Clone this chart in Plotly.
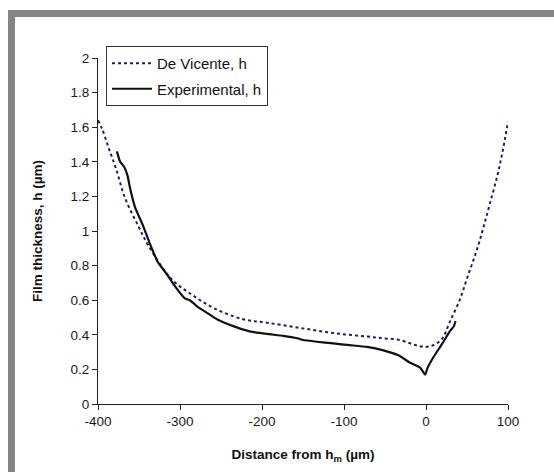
import plotly.graph_objects as go

# De Vicente (theory) curve
dv_x = [-400, -395, -387, -378, -367, -351, -339, -312, -285, -257, -223, -194, -154,
        -113, -72, -52, -32, -16, -3, 9, 20, 29, 41, 51, 62, 70, 78, 87, 93, 100]
dv_h = [1.64, 1.59, 1.48, 1.36, 1.19, 1.03, 0.92, 0.73, 0.63, 0.55, 0.49, 0.47, 0.44,
        0.41, 0.39, 0.38, 0.37, 0.345, 0.33, 0.34, 0.38, 0.475, 0.60, 0.74, 0.89, 1.02,
        1.16, 1.32, 1.45, 1.63]

# Experimental curve
ex_x = [-377, -373, -368, -364, -361, -355, -345, -337, -327, -316, -306, -294, -288, -278,
        -268, -255, -235, -215, -194, -174, -157, -150, -133, -113, -93, -72, -52, -33,
        -20, -7, -1, 2, 9, 20, 29, 34, 36]
ex_h = [1.46, 1.40, 1.37, 1.32, 1.25, 1.14, 1.03, 0.93, 0.82, 0.75, 0.68, 0.61, 0.60, 0.56,
        0.53, 0.49, 0.45, 0.42, 0.405, 0.394, 0.38, 0.37, 0.36, 0.35, 0.34, 0.33, 0.31,
        0.28, 0.24, 0.21, 0.17, 0.21, 0.27, 0.35, 0.42, 0.45, 0.48]

x_ticks = [-400, -300, -200, -100, 0, 100]
x_tick_text = ["-400", "-300", "-200", "-100", "0", "100"]
y_ticks = [0, 0.2, 0.4, 0.6, 0.8, 1, 1.2, 1.4, 1.6, 1.8, 2]
y_tick_text = ["0", "0.2", "0.4", "0.6", "0.8", "1", "1.2", "1.4", "1.6", "1.8", "2"]

fig = go.Figure()
fig.add_trace(go.Scatter(x=dv_x, y=dv_h, mode="lines", name="De Vicente, h",
                         legendgroup="a",
                         line=dict(color="#1c1c70", width=2, dash="dot", shape="spline")))
fig.add_trace(go.Scatter(x=ex_x, y=ex_h, mode="lines", name="Experimental, h",
                         legendgroup="b",
                         line=dict(color="#111111", width=2.2, shape="spline", smoothing=0.4)))

L, R, T, B = 98, 46, 58, 68
W, H = 554, 472
pw, ph = W - L - R, H - T - B

def px(xp):
    return (xp - L) / pw

def py(yp):
    return (H - B - yp) / ph

fig.add_shape(type="rect", xref="paper", yref="paper",
              x0=px(11.5), x1=px(600), y0=py(520), y1=py(13.5),
              line=dict(color="#858585", width=7), fillcolor="rgba(0,0,0,0)", layer="below")

fig.update_layout(
    width=W, height=H,
    margin=dict(l=L, r=R, t=T, b=B),
    paper_bgcolor="white", plot_bgcolor="white",
    font=dict(family="Liberation Sans, Arial, sans-serif", size=13.5, color="#1a1a1a"),
    showlegend=True,
    legend=dict(x=px(106), y=py(46), xanchor="left", yanchor="top",
                bordercolor="#333333", borderwidth=1, bgcolor="white",
                font=dict(size=15, color="#111111"), tracegroupgap=3,
                itemwidth=40),
    xaxis=dict(range=[-400, 100], tickvals=x_ticks, ticktext=x_tick_text,
               ticks="outside", ticklen=5,
               tickcolor="#222", showline=True, linecolor="#222", linewidth=1,
               showgrid=False, zeroline=False,
               title=dict(text="<b>Distance from h<sub>m</sub> (µm)</b>",
                          font=dict(size=13.5, color="#111"), standoff=21)),
    yaxis=dict(range=[0, 2], tickvals=y_ticks, ticktext=y_tick_text,
               ticks="outside", ticklen=5,
               tickcolor="#222", showline=True, linecolor="#222", linewidth=1,
               showgrid=False, zeroline=False,
               title=dict(text="<b>Film thickness, h (µm)</b>",
                          font=dict(size=13.5, color="#111"), standoff=24)),
)

fig.write_html("out.html")
